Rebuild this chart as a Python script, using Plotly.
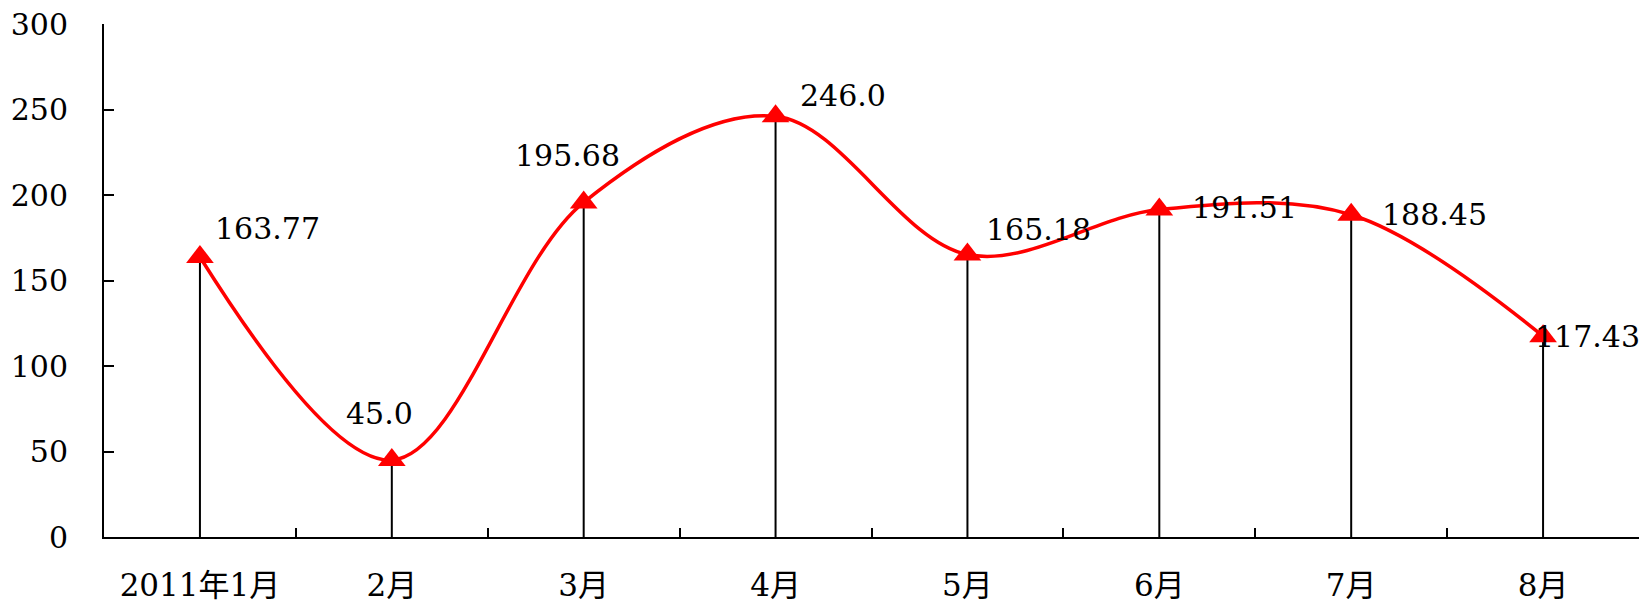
import plotly.graph_objects as go

# Monthly values, Jan–Aug 2011
months = ["2011年1月", "2月", "3月", "4月", "5月", "6月", "7月", "8月"]
values = [163.77, 45.0, 195.68, 246.0, 165.18, 191.51, 188.45, 117.43]
value_labels = ["163.77", "45.0", "195.68", "246.0", "165.18", "191.51", "188.45", "117.43"]

# Pixel offsets for each value label relative to its point
label_dx = [68, -12, -16, 67, 71, 85, 83, 44]
label_dy = [28, 47, 47, 21, 25, 2, 0, 0]

y_ticks = [0, 50, 100, 150, 200, 250, 300]

FONT = "DejaVu Serif, Noto Sans CJK SC"

fig = go.Figure()

# Black drop lines from each point down to zero
fig.add_trace(go.Scatter(
    x=months, y=values, mode="markers",
    marker=dict(size=1, color="rgba(0,0,0,0)"),
    error_y=dict(type="data", symmetric=False, array=[0] * len(values),
                 arrayminus=values, color="black", thickness=2, width=0),
    hoverinfo="skip", showlegend=False,
))

# Smoothed red line with triangle markers
fig.add_trace(go.Scatter(
    x=months, y=values, mode="lines+markers",
    line=dict(color="#ff0000", width=3.5, shape="spline", smoothing=1.0),
    marker=dict(symbol="triangle-up", size=24, color="#ff0000"),
    showlegend=False,
))

for m, v, t, dx, dy in zip(months, values, value_labels, label_dx, label_dy):
    fig.add_annotation(x=m, y=v, text=t, showarrow=False,
                       xshift=dx, yshift=dy,
                       font=dict(family=FONT, size=30, color="black"))

fig.update_layout(
    width=1647, height=602,
    margin=dict(l=104, r=8, t=24, b=65, autoexpand=False),
    paper_bgcolor="white", plot_bgcolor="white",
    font=dict(family=FONT, size=30, color="black"),
)
fig.update_xaxes(
    type="category", range=[-0.5, 7.5], automargin=False,
    showline=True, linecolor="black", linewidth=2,
    ticks="inside", tickson="boundaries", ticklen=9, tickwidth=2, tickcolor="black",
    showgrid=False, zeroline=False,
    tickfont=dict(family=FONT, size=31, color="black"),
    ticklabelstandoff=20,
)
fig.update_yaxes(
    range=[0, 300], tickvals=y_ticks, automargin=False,
    showline=True, linecolor="black", linewidth=2,
    ticks="inside", ticklen=10, tickwidth=2, tickcolor="black",
    showgrid=False, zeroline=False,
    tickfont=dict(family=FONT, size=30, color="black"),
    ticklabelstandoff=28,
)

fig.write_html("out.html")
